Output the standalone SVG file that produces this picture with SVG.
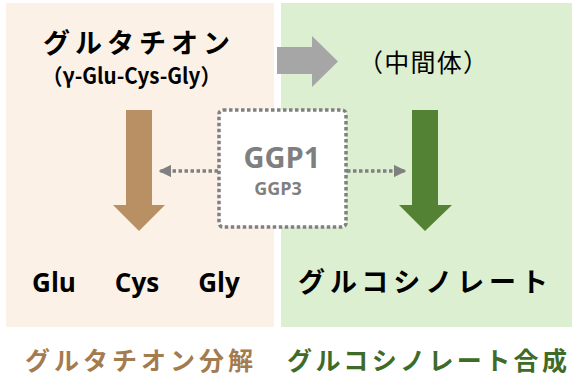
<svg xmlns="http://www.w3.org/2000/svg" width="572" height="378" viewBox="0 0 572 378">
<style>
text{font-family:"Noto Sans CJK JP","Noto Sans",sans-serif}
.b{font-weight:bold;fill:#000}
.lat{font-family:"Open Sans","Noto Sans CJK JP",sans-serif;font-weight:bold}
</style>
<defs>
<marker id="ah" viewBox="0 0 10 10" refX="9" refY="5" markerWidth="3.6" markerHeight="3.6" orient="auto" markerUnits="strokeWidth"><path d="M0,0L10,5L0,10z" fill="#808080"/></marker>
</defs>
<rect x="0" y="0" width="572" height="378" fill="#fff"/>
<g id="panel-left"><rect x="6" y="3" width="268" height="324" fill="#fbf1e6"/></g>
<g id="panel-right"><rect x="281" y="3" width="291" height="324" fill="#dcefd0"/></g>
<g id="connectors">
<path id="arrow-gray" d="M277,47H312V36L338,61.5L312,87V74H277Z" fill="#a6a6a6"/>
<path id="arrow-brown" d="M126,110H152V205H165L139,231L113,205H126Z" fill="#b98f64"/>
<path id="arrow-green" d="M412,110H438V205H452L425,231L399,205H412Z" fill="#548235"/>
<line x1="218" y1="171" x2="160" y2="171" stroke="#808080" stroke-width="3.5" stroke-dasharray="3.5 2.5" marker-end="url(#ah)"/>
<line x1="347" y1="171" x2="405" y2="171" stroke="#808080" stroke-width="3.5" stroke-dasharray="3.5 2.5" marker-end="url(#ah)"/>
</g>
<g id="node-glutathione">
<text class="b" x="43" y="53" font-size="27" textLength="187" lengthAdjust="spacing">グルタチオン</text>
<text class="b" x="42" y="84" font-size="22" textLength="179" lengthAdjust="spacingAndGlyphs">（γ-Glu-Cys-Gly）</text>
</g>
<g id="node-intermediate">
<text x="358" y="72" font-size="25" fill="#000" textLength="130" lengthAdjust="spacing">（中間体）</text>
</g>
<g id="node-ggp">
<rect x="219" y="110" width="127" height="117" rx="4" fill="#fff" stroke="#808080" stroke-width="3.5" stroke-dasharray="3.5 2.5"/>
<text class="lat" x="282" y="168" font-size="29" fill="#7f7f7f" text-anchor="middle">GGP1</text>
<text class="lat" x="278" y="195" font-size="18" fill="#7f7f7f" text-anchor="middle">GGP3</text>
</g>
<g id="node-amino">
<text class="lat" x="54" y="292" font-size="26" fill="#000" text-anchor="middle">Glu</text>
<text class="lat" x="137" y="292" font-size="26" fill="#000" text-anchor="middle">Cys</text>
<text class="lat" x="219" y="292" font-size="26" fill="#000" text-anchor="middle">Gly</text>
</g>
<g id="node-glucosinolate">
<text class="b" x="298" y="292" font-size="27" textLength="250" lengthAdjust="spacing">グルコシノレート</text>
</g>
<g id="labels">
<text x="25" y="370" font-size="25" font-weight="bold" fill="#a47b4f" textLength="228" lengthAdjust="spacing">グルタチオン分解</text>
<text x="287" y="370" font-size="25" font-weight="bold" fill="#3e6b28" textLength="280" lengthAdjust="spacing">グルコシノレート合成</text>
</g>
</svg>
